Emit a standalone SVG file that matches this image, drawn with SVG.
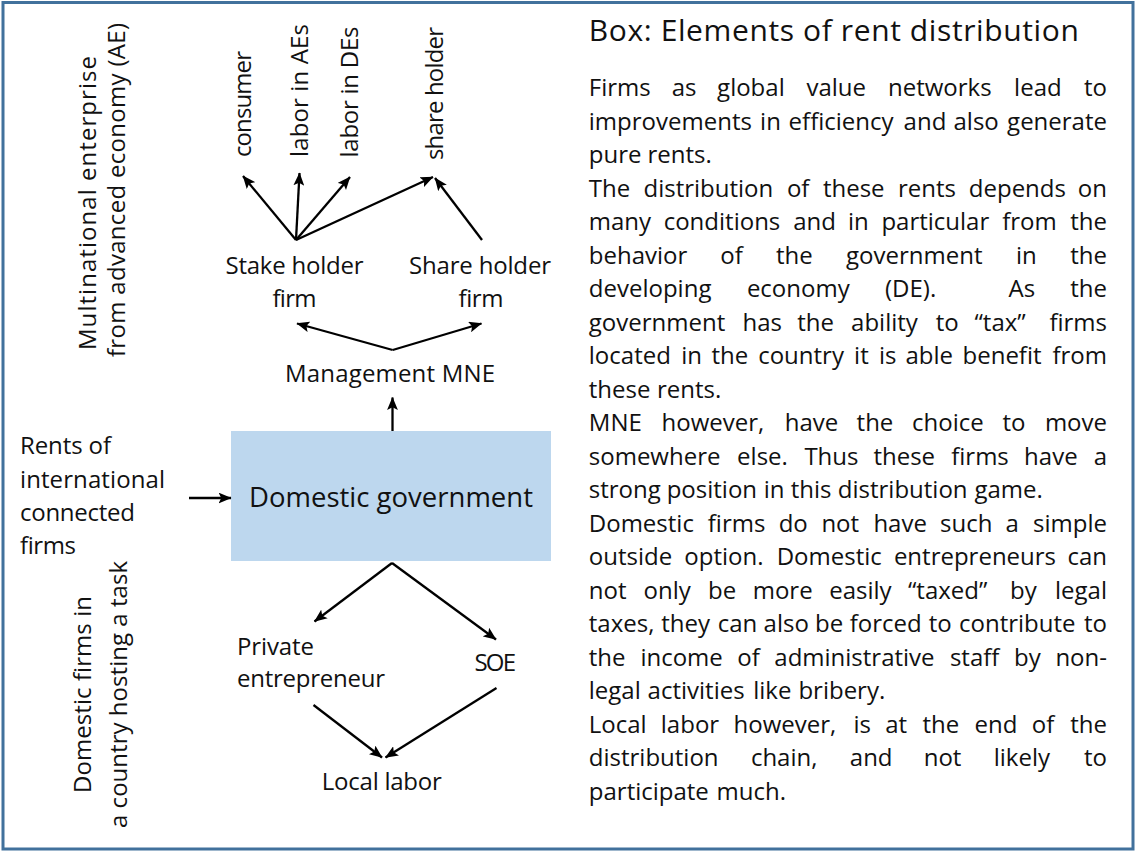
<svg xmlns="http://www.w3.org/2000/svg" width="1136" height="852" viewBox="0 0 1136 852">
<style>
text{font-family:"Open Sans","Noto Sans","Liberation Sans",sans-serif;fill:#111;font-variant-ligatures:none;}
.b{font-size:24px;}
.lab{font-size:24px;}
.vl{font-size:24px;}
.t{font-size:30px;}
.e{text-anchor:end;}
.m{text-anchor:middle;}
.ar{stroke:#000;stroke-width:2.3;fill:none;marker-end:url(#ah);}
</style>
<defs>
<marker id="ah" viewBox="0 0 12 10" markerWidth="13" markerHeight="11" refX="11.5" refY="5" orient="auto" markerUnits="userSpaceOnUse">
<path d="M0,0 L12,5 L0,10 L2.5,5 z" fill="#000"/>
</marker>
</defs>
<rect x="3" y="2.5" width="1130" height="846.5" fill="#fff" stroke="#41719C" stroke-width="3"/>

<g id="label-multinational">
<text class="vl" transform="translate(96,350) rotate(-90)" textLength="294">Multinational enterprise</text>
<text class="vl" transform="translate(125,357) rotate(-90)" textLength="334">from advanced economy (AE)</text>
</g>
<g id="label-domestic-firms">
<text class="vl" transform="translate(91,793) rotate(-90)" textLength="197">Domestic firms in</text>
<text class="vl" transform="translate(127,828) rotate(-90)" textLength="267">a country hosting a task</text>
</g>

<g id="node-consumer"><text class="lab" transform="translate(251,157) rotate(-90)" textLength="106">consumer</text></g>
<g id="node-labor-aes"><text class="lab" transform="translate(308,157) rotate(-90)" textLength="133">labor in AEs</text></g>
<g id="node-labor-des"><text class="lab" transform="translate(358,157.5) rotate(-90)" textLength="131">labor in DEs</text></g>
<g id="node-share-holder"><text class="lab" transform="translate(443,160) rotate(-90)" textLength="133">share holder</text></g>

<g id="node-stake-holder-firm">
<text class="lab m" x="294.5" y="274" textLength="138">Stake holder</text>
<text class="lab m" x="294.5" y="306.7" textLength="44">firm</text>
</g>
<g id="node-share-holder-firm">
<text class="lab m" x="480" y="274" textLength="142">Share holder</text>
<text class="lab m" x="481" y="306.7" textLength="45">firm</text>
</g>
<g id="node-management">
<text class="lab m" x="390" y="381.7" textLength="210">Management MNE</text>
</g>
<g id="node-government">
<rect x="231" y="431" width="320" height="130" fill="#BDD7EE"/>
<text class="m" style="font-size:27.5px" x="391" y="507" textLength="284">Domestic government</text>
</g>
<g id="node-rents">
<text class="lab" x="20" y="454.3" textLength="91">Rents of</text>
<text class="lab" x="20" y="487.7" textLength="145">international</text>
<text class="lab" x="20" y="521" textLength="115">connected</text>
<text class="lab" x="20" y="554.3" textLength="56">firms</text>
</g>
<g id="node-private">
<text class="lab" x="237" y="655" textLength="77">Private</text>
<text class="lab" x="237" y="686.7" textLength="148">entrepreneur</text>
</g>
<g id="node-soe"><text class="lab" x="474.5" y="670.7" textLength="41.5">SOE</text></g>
<g id="node-local-labor"><text class="lab" x="321.8" y="790" textLength="120">Local labor</text></g>

<g id="connectors">
<line class="ar" x1="296" y1="240" x2="243" y2="176"/>
<line class="ar" x1="296" y1="240" x2="299.5" y2="173"/>
<line class="ar" x1="296" y1="240" x2="350" y2="177"/>
<line class="ar" x1="296" y1="240" x2="433" y2="177"/>
<line class="ar" x1="482" y1="240" x2="435" y2="178"/>
<line class="ar" x1="392.7" y1="350" x2="297" y2="323.5"/>
<line class="ar" x1="392.7" y1="350" x2="481.5" y2="323.5"/>
<line class="ar" x1="392.5" y1="431" x2="392.5" y2="397.5"/>
<line class="ar" x1="189" y1="498" x2="231" y2="498"/>
<line class="ar" x1="392" y1="563" x2="314.5" y2="621.5"/>
<line class="ar" x1="392" y1="563" x2="496" y2="639.5"/>
<line class="ar" x1="313.5" y1="705" x2="382" y2="757.5"/>
<line class="ar" x1="496.5" y1="688" x2="385.5" y2="757.5"/>
</g>

<g id="textbox">
<text class="t" x="588.8" y="40.7" textLength="490">Box: Elements of rent distribution</text>
<text class="b" y="96"><tspan x="588.8">Firms</tspan><tspan x="671.7">as</tspan><tspan x="717.1">global</tspan><tspan x="806.4">value</tspan><tspan x="888">networks</tspan><tspan x="1014.1">lead</tspan><tspan x="1107" class="e">to</tspan></text>
<text class="b" y="129.5"><tspan x="588.8">improvements</tspan><tspan x="760.1">in</tspan><tspan x="788.6">efficiency</tspan><tspan x="903.6">and</tspan><tspan x="953.5">also</tspan><tspan x="1107" class="e">generate</tspan></text>
<text class="b" y="163"><tspan x="588.8">pure</tspan><tspan x="647.4">rents.</tspan></text>
<text class="b" y="196.5"><tspan x="588.8">The</tspan><tspan x="643.5">distribution</tspan><tspan x="786.9">of</tspan><tspan x="822.9">these</tspan><tspan x="897.9">rents</tspan><tspan x="968.8">depends</tspan><tspan x="1107" class="e">on</tspan></text>
<text class="b" y="230"><tspan x="588.8">many</tspan><tspan x="663.7">conditions</tspan><tspan x="793.2">and</tspan><tspan x="848">in</tspan><tspan x="881.4">particular</tspan><tspan x="1002.2">from</tspan><tspan x="1107" class="e">the</tspan></text>
<text class="b" y="263.5"><tspan x="588.8">behavior</tspan><tspan x="720.3">of</tspan><tspan x="775.9">the</tspan><tspan x="846">government</tspan><tspan x="1016">in</tspan><tspan x="1107" class="e">the</tspan></text>
<text class="b" y="297"><tspan x="588.8">developing</tspan><tspan x="746.9">economy</tspan><tspan x="885">(DE).</tspan><tspan x="1008.6">As</tspan><tspan x="1107" class="e">the</tspan></text>
<text class="b" y="330.5"><tspan x="588.8">government</tspan><tspan x="742.5">has</tspan><tspan x="797.3">the</tspan><tspan x="851.1">ability</tspan><tspan x="935.8">to</tspan><tspan x="974.5">“tax”</tspan><tspan x="1107" class="e">firms</tspan></text>
<text class="b" y="364"><tspan x="588.8">located</tspan><tspan x="681.3">in</tspan><tspan x="711.4">the</tspan><tspan x="758.2">country</tspan><tspan x="854.1">it</tspan><tspan x="879">is</tspan><tspan x="905.4">able</tspan><tspan x="962.5">benefit</tspan><tspan x="1107" class="e">from</tspan></text>
<text class="b" y="397.5"><tspan x="588.8">these</tspan><tspan x="657">rents.</tspan></text>
<text class="b" y="431"><tspan x="588.8">MNE</tspan><tspan x="661.6">however,</tspan><tspan x="784.8">have</tspan><tspan x="856.6">the</tspan><tspan x="912">choice</tspan><tspan x="1002.4">to</tspan><tspan x="1107" class="e">move</tspan></text>
<text class="b" y="464.5"><tspan x="588.8">somewhere</tspan><tspan x="737.1">else.</tspan><tspan x="804.4">Thus</tspan><tspan x="873.4">these</tspan><tspan x="951.2">firms</tspan><tspan x="1024.1">have</tspan><tspan x="1107" class="e">a</tspan></text>
<text class="b" y="498"><tspan x="588.8">strong</tspan><tspan x="666.7">position</tspan><tspan x="763.7">in</tspan><tspan x="790.7">this</tspan><tspan x="837.8">distribution</tspan><tspan x="974.4">game.</tspan></text>
<text class="b" y="531.5"><tspan x="588.8">Domestic</tspan><tspan x="707.8">firms</tspan><tspan x="778.7">do</tspan><tspan x="821.4">not</tspan><tspan x="873.4">have</tspan><tspan x="940">such</tspan><tspan x="1005.5">a</tspan><tspan x="1107" class="e">simple</tspan></text>
<text class="b" y="565"><tspan x="588.8">outside</tspan><tspan x="684.3">option.</tspan><tspan x="776.7">Domestic</tspan><tspan x="893.9">entrepreneurs</tspan><tspan x="1107" class="e">can</tspan></text>
<text class="b" y="598.5"><tspan x="588.8">not</tspan><tspan x="643.6">only</tspan><tspan x="708">be</tspan><tspan x="752.7">more</tspan><tspan x="829.2">easily</tspan><tspan x="908">“taxed”</tspan><tspan x="1010">by</tspan><tspan x="1107" class="e">legal</tspan></text>
<text class="b" y="632"><tspan x="588.8">taxes,</tspan><tspan x="661.2">they</tspan><tspan x="717.7">can</tspan><tspan x="763.6">also</tspan><tspan x="815">be</tspan><tspan x="849.7">forced</tspan><tspan x="928.7">to</tspan><tspan x="959">contribute</tspan><tspan x="1107" class="e">to</tspan></text>
<text class="b" y="665.5"><tspan x="588.8">the</tspan><tspan x="640.4">income</tspan><tspan x="737.2">of</tspan><tspan x="774.3">administrative</tspan><tspan x="949.9">staff</tspan><tspan x="1014.1">by</tspan><tspan x="1107" class="e">non-</tspan></text>
<text class="b" y="699"><tspan x="588.8">legal</tspan><tspan x="647.6">activities</tspan><tspan x="753.2">like</tspan><tspan x="798.4">bribery.</tspan></text>
<text class="b" y="732.5"><tspan x="588.8">Local</tspan><tspan x="660.8">labor</tspan><tspan x="733.6">however,</tspan><tspan x="853.5">is</tspan><tspan x="885.2">at</tspan><tspan x="922.4">the</tspan><tspan x="974.5">end</tspan><tspan x="1031.8">of</tspan><tspan x="1107" class="e">the</tspan></text>
<text class="b" y="766"><tspan x="588.8">distribution</tspan><tspan x="750.9">chain,</tspan><tspan x="849.8">and</tspan><tspan x="923.7">not</tspan><tspan x="993.7">likely</tspan><tspan x="1107" class="e">to</tspan></text>
<text class="b" y="799.5"><tspan x="588.8">participate</tspan><tspan x="716.6">much.</tspan></text>
</g>
</svg>
